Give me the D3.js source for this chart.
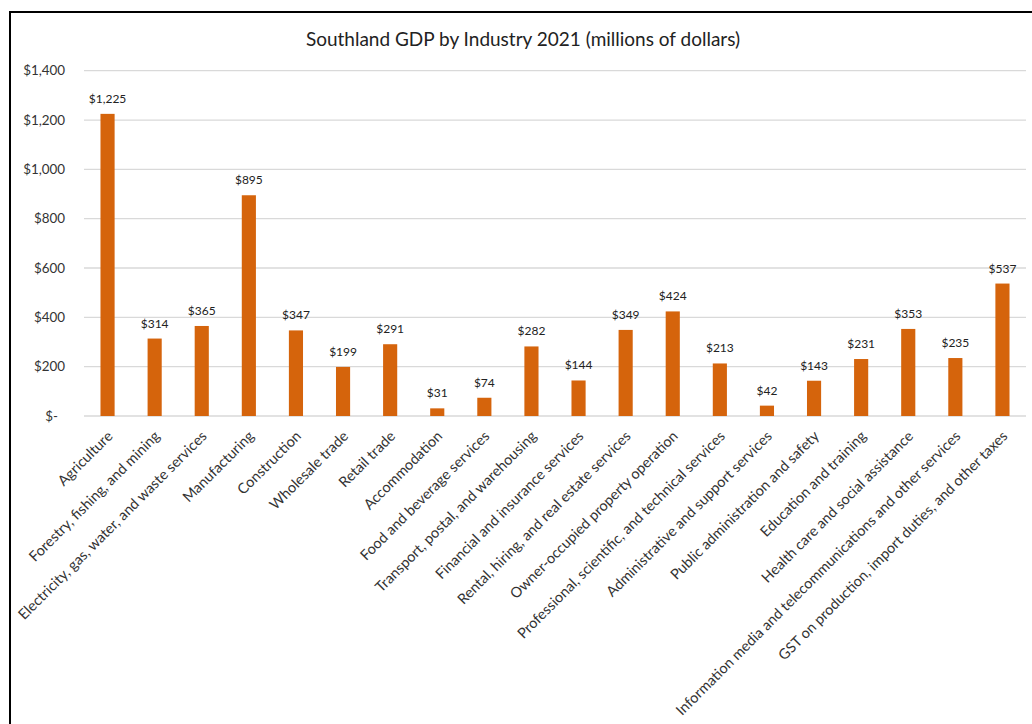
<!DOCTYPE html>
<html>
<head>
<meta charset="utf-8">
<script src="https://cdn.jsdelivr.net/npm/d3@7"></script>
<style>
    body { margin: 0; background: #fff; }
    text { font-family: Lato, "Open Sans", sans-serif; }
</style>
</head>
<body>
<script>
var categories = [
    "Agriculture",
    "Forestry, fishing, and mining",
    "Electricity, gas, water, and waste services",
    "Manufacturing",
    "Construction",
    "Wholesale trade",
    "Retail trade",
    "Accommodation",
    "Food and beverage services",
    "Transport, postal, and warehousing",
    "Financial and insurance services",
    "Rental, hiring, and real estate services",
    "Owner-occupied property operation",
    "Professional, scientific, and technical services",
    "Administrative and support services",
    "Public administration and safety",
    "Education and training",
    "Health care and social assistance",
    "Information media and telecommunications and other services",
    "GST on production, import duties, and other taxes"
];
var values = [1225, 314, 365, 895, 347, 199, 291, 31, 74, 282, 144, 349, 424, 213, 42, 143, 231, 353, 235, 537];
var yTicks = [0, 200, 400, 600, 800, 1000, 1200, 1400];
var title = "Southland GDP by Industry 2021 (millions of dollars)";

function init() {
    var w = 1032;
    var h = 724;
    var left = 84, right = 1026, top = 70.7, bottom = 416;
    var barColor = "#d5640c";

    var svg = d3.select("body")
        .append("svg")
        .attr("width", w)
        .attr("height", h);

    // chart frame (runs off the right and bottom edge)
    svg.append("rect")
        .attr("x", 10)
        .attr("y", 12)
        .attr("width", 1100)
        .attr("height", 800)
        .attr("fill", "#fff")
        .attr("stroke", "#000")
        .attr("stroke-width", 2);

    var xScale = d3.scaleBand()
        .domain(categories)
        .range([left, right])
        .paddingInner(0.7)
        .paddingOuter(0.35);

    var yScale = d3.scaleLinear()
        .domain([0, 1400])
        .range([bottom, top]);

    // gridlines
    svg.selectAll("line.grid")
        .data(yTicks)
        .enter()
        .append("line")
        .attr("class", "grid")
        .attr("x1", left)
        .attr("x2", right)
        .attr("y1", function (d) { return yScale(d); })
        .attr("y2", function (d) { return yScale(d); })
        .attr("stroke", "#d9d9d9")
        .attr("stroke-width", 1.3);

    // y labels
    var fmt = d3.format("$,");
    svg.selectAll("text.ylab")
        .data(yTicks)
        .enter()
        .append("text")
        .attr("class", "ylab")
        .attr("x", function (d) { return d === 0 ? 58 : 65; })
        .attr("y", function (d) { return yScale(d); })
        .attr("dy", "0.35em")
        .attr("text-anchor", "end")
        .attr("font-size", 13.4)
        .attr("fill", "#333")
        .text(function (d) { return d === 0 ? "$-" : fmt(d); });

    // bars
    svg.selectAll("rect.bar")
        .data(values)
        .enter()
        .append("rect")
        .attr("class", "bar")
        .attr("x", function (d, i) { return xScale(categories[i]); })
        .attr("y", function (d) { return yScale(d); })
        .attr("width", xScale.bandwidth())
        .attr("height", function (d) { return yScale(0) - yScale(d); })
        .attr("fill", barColor);

    // value labels
    svg.selectAll("text.val")
        .data(values)
        .enter()
        .append("text")
        .attr("class", "val")
        .attr("x", function (d, i) { return xScale(categories[i]) + xScale.bandwidth() / 2; })
        .attr("y", function (d) { return yScale(d) - 11; })
        .attr("text-anchor", "middle")
        .attr("font-size", 12)
        .attr("fill", "#222")
        .text(function (d) { return fmt(d); });

    // category labels
    var xAxis = d3.axisBottom(xScale).tickSize(0).tickPadding(0);
    var gx = svg.append("g")
        .attr("transform", "translate(0," + bottom + ")")
        .call(xAxis);
    gx.select(".domain").remove();
    gx.selectAll("text")
        .attr("font-size", 14.5)
        .attr("fill", "#333")
        .style("font-family", "Lato, sans-serif")
        .style("text-anchor", "end")
        .attr("transform", "translate(6,21) rotate(-45)")
        .attr("dy", 0)
        .attr("y", 0);

    svg.append("text")
        .attr("x", 523)
        .attr("y", 46)
        .attr("text-anchor", "middle")
        .attr("font-size", 19)
        .attr("fill", "#222")
        .text(title);
}

window.onload = init;
</script>
</body>
</html>
